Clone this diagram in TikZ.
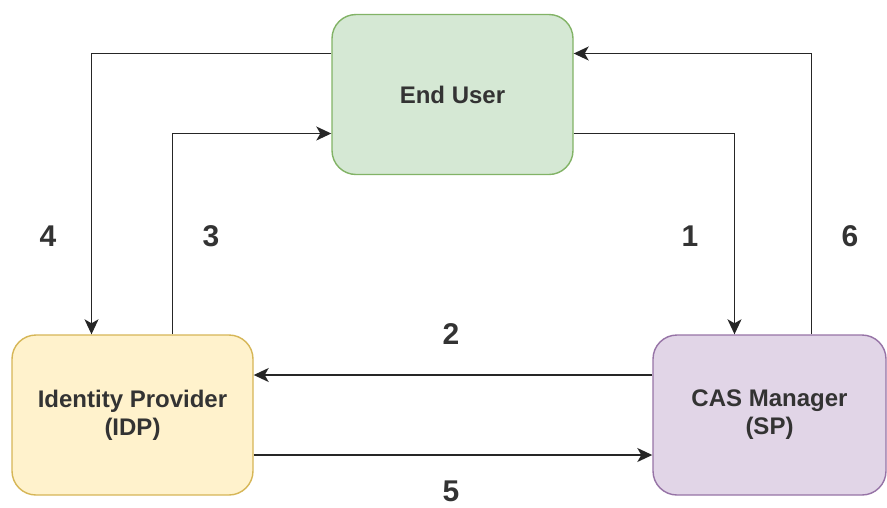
\documentclass[tikz,border=0pt]{standalone}
\usepackage{fontspec}
\setmainfont{Liberation Sans}
\usetikzlibrary{calc, arrows.meta}

\definecolor{userfill}{HTML}{D5E8D4}
\definecolor{userline}{HTML}{82B366}
\definecolor{idpfill}{HTML}{FFF2CC}
\definecolor{idpline}{HTML}{D6B656}
\definecolor{casfill}{HTML}{E1D5E7}
\definecolor{casline}{HTML}{9673A6}
\definecolor{txt}{HTML}{333333}
\definecolor{wire}{HTML}{262626}

\tikzset{
    box/.style={rectangle, rounded corners=24pt, minimum width=241pt, minimum height=160pt,
        line width=1.4pt, align=center, text=txt, font=\fontsize{24}{28}\selectfont\bfseries},
    flow/.style={line width=1.5pt, draw=wire, -{Stealth[length=15pt, width=14pt, inset=4pt]}},
    steplabel/.style={inner sep=0pt, text=txt, font=\fontsize{30}{34}\selectfont\bfseries}
}

\begin{document}
\begin{tikzpicture}[x=1pt, y=-1pt]
        \useasboundingbox (0,0) rectangle (887,507);

        %% Boxes
        \node (user) [box, fill=userfill, draw=userline] at (452.5,94.5) {End User};
        \node (idp) [box, fill=idpfill, draw=idpline] at (132.5,415) {Identity Provider\\(IDP)};
        \node (cas) [box, fill=casfill, draw=casline, minimum width=233pt] at (769.5,415) {CAS Manager\\(SP)};

        %% Arrows
        \draw [flow] ($(user.west) + (0,-41)$) -| ($(idp.north) + (-41,0)$);
        \draw [flow] ($(idp.north) + (40,0)$) |- ($(user.west) + (0,39)$);
        \draw [flow] ($(user.east) + (0,39)$) -| ($(cas.north) + (-35,0)$);
        \draw [flow] ($(cas.north) + (42,0)$) |- ($(user.east) + (0,-41)$);
        \draw [flow] ($(cas.west) + (0,-40)$) -- ($(idp.east) + (0,-40)$);
        \draw [flow] ($(idp.east) + (0,40)$) -- ($(cas.west) + (0,40)$);

        %% Step numbers
        \node (n4) [steplabel] at (48,236) {4};
        \node (n3) [steplabel] at (211,236) {3};
        \node (n1) [steplabel] at (690,236) {1};
        \node (n6) [steplabel] at (850,236) {6};
        \node (n2) [steplabel] at (451,334.5) {2};
        \node (n5) [steplabel] at (451,491.5) {5};

\end{tikzpicture}
\end{document}
